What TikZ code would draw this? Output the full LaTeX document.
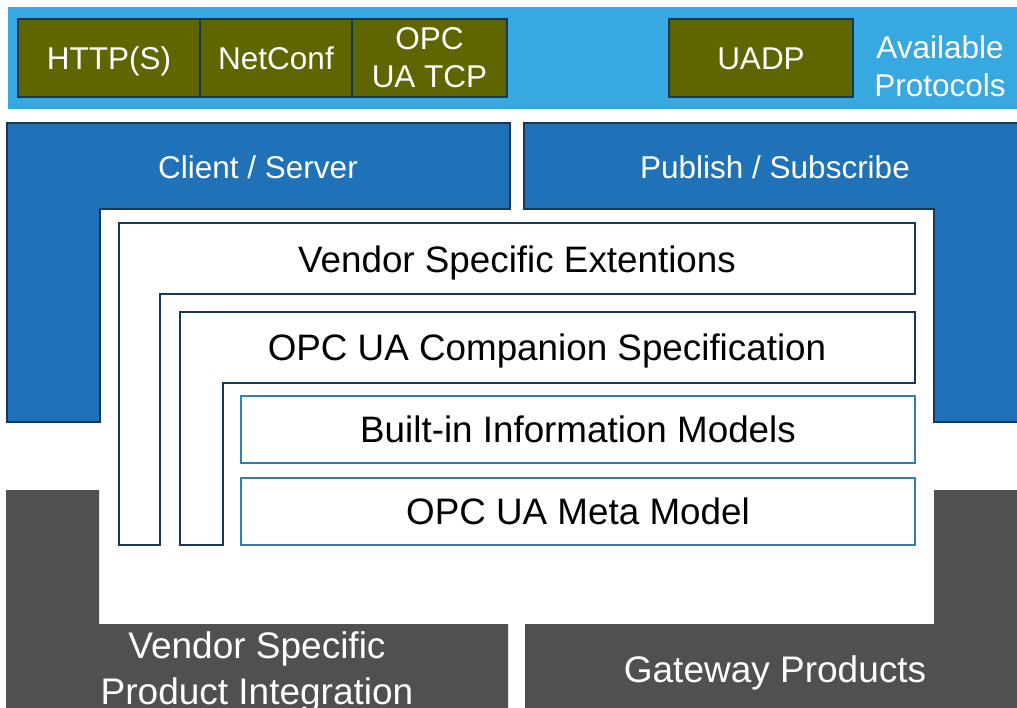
\documentclass[tikz,border=0pt]{standalone}
\usepackage{fontspec}
\setmainfont{Liberation Sans}
\usetikzlibrary{positioning}

\definecolor{bandblue}{RGB}{56,168,224}
\definecolor{layerblue}{RGB}{31,114,184}
\definecolor{protoolive}{RGB}{95,102,0}
\definecolor{navyline}{RGB}{22,55,85}
\definecolor{modelline}{RGB}{47,128,176}
\definecolor{productgray}{RGB}{80,80,80}

\tikzset{
  proto/.style={draw=navyline, line width=2.5pt, fill=protoolive, text=white,
    inner sep=0pt, outer sep=0pt, minimum height=78pt, align=center,
    font=\fontsize{31.5}{38}\selectfont},
  oneline/.style={text height=22.6pt, text depth=0pt},
  layer/.style={draw=navyline, line width=2.5pt, fill=layerblue},
  ext/.style={draw=navyline, line width=2.5pt, fill=white},
  model/.style={draw=modelline, line width=2.5pt, fill=white, inner sep=0pt,
    outer sep=0pt, minimum width=674pt, minimum height=67pt, anchor=north west,
    text height=26.4pt, text depth=0pt, font=\fontsize{36.8}{44}\selectfont},
  whitelabel/.style={text=white, inner sep=0pt, align=center,
    font=\fontsize{31.5}{38}\selectfont},
  blacklabel/.style={inner sep=0pt, anchor=base, font=\fontsize{36.8}{44}\selectfont},
  graylabel/.style={text=white, inner sep=0pt, align=center,
    font=\fontsize{37}{46}\selectfont}
}

\begin{document}
\begin{tikzpicture}[x=1pt, y=-1pt, node distance=0pt]
  \useasboundingbox (0,0) rectangle (1017,708);
  \clip (0,0) rectangle (1017,708);

  % Available protocols band
  \fill[bandblue] (8,7) rectangle (1030,109);
  \node[proto, oneline, minimum width=182pt, anchor=north west] (http) at (18,19) {HTTP(S)};
  \node[proto, oneline, minimum width=152pt, right=0pt of http] (netconf) {NetConf};
  \node[proto, minimum width=155pt, right=0pt of netconf] (opctcp) {OPC\\UA TCP};
  \node[proto, oneline, minimum width=184pt, anchor=north west] (uadp) at (669,19) {UADP};
  \node[whitelabel] (avail) at (940,66) {Available\\Protocols};

  % Client / Server and Publish / Subscribe
  \draw[layer] (7,123) -- (510,123) -- (510,209) -- (100,209) -- (100,422) -- (7,422) -- cycle;
  \draw[layer] (524,123) -- (1030,123) -- (1030,422) -- (934,422) -- (934,209) -- (524,209) -- cycle;
  \node[whitelabel, anchor=base] (clientserver) at (258,179) {Client / Server};
  \node[whitelabel, anchor=base] (pubsub) at (775,179) {Publish / Subscribe};

  % Information model layers
  \draw[ext] (119,223) -- (915,223) -- (915,294) -- (160,294) -- (160,545) -- (119,545) -- cycle;
  \draw[ext] (180,312) -- (915,312) -- (915,383) -- (223,383) -- (223,545) -- (180,545) -- cycle;
  \node[blacklabel] (vendorext) at (517,273) {Vendor Specific Extentions};
  \node[blacklabel] (companion) at (547,360) {OPC UA Companion Specification};
  \node[model] (builtin) at (241,396) {Built-in Information Models};
  \node[model] (metamodel) at (241,478) {OPC UA Meta Model};

  % Products
  \fill[productgray] (6,490) -- (99,490) -- (99,624) -- (508,624) -- (508,720) -- (6,720) -- cycle;
  \fill[productgray] (525,624) -- (934,624) -- (934,490) -- (1030,490) -- (1030,720) -- (525,720) -- cycle;
  \node[graylabel, anchor=base] (vendorprod) at (257,704) {Vendor Specific\\Product Integration};
  \node[graylabel, anchor=base] (gateway) at (775,682) {Gateway Products};
\end{tikzpicture}
\end{document}
